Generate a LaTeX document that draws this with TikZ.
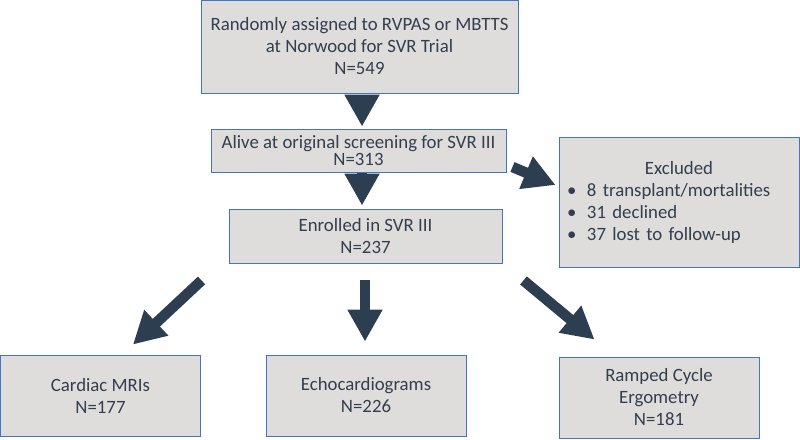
\documentclass[tikz,border=0pt]{standalone}
\usepackage{fontspec}
\setmainfont{Carlito}
\usepackage{tikz}
\usetikzlibrary{arrows.meta,positioning}
\definecolor{boxfill}{RGB}{222,221,220}
\definecolor{boxline}{RGB}{68,114,196}
\definecolor{navy}{RGB}{45,62,80}
\definecolor{ink}{RGB}{52,62,78}

\begin{document}
\begin{tikzpicture}[x=1pt,y=-1pt,
  box/.style={draw=boxline,fill=boxfill,line width=0.9pt,inner sep=0pt,align=center,text=ink,font=\fontsize{18.8}{22}\selectfont},
  fat/.style={draw=navy,line width=10.5pt,-{Triangle[length=32pt,width=33pt]}}]
  \useasboundingbox (0,0) rectangle (800,439);
  \node[box,minimum width=317,minimum height=93] (rand) at (359.5,46.5) {Randomly assigned to RVPAS or MBTTS\\at Norwood for SVR Trial\\N=549};
  \node[box,minimum width=295,minimum height=43,font=\fontsize{18.8}{17.5}\selectfont] (alive) at (358.5,150.5) {Alive at original screening for SVR III\\N=313};
  \node[box,minimum width=273,minimum height=54] (enrol) at (365.5,236) {Enrolled in SVR III\\N=237};
  \node[box,minimum width=240,minimum height=130,text width=224,align=left] (excl) at (679,202) {\makebox[224pt]{Excluded}\\
    \makebox[20pt][l]{\textbullet}8 transplant/mortalities\\
    \makebox[20pt][l]{\textbullet}31 declined\\
    \makebox[20pt][l]{\textbullet}37 lost to follow-up};
  \node[box,minimum width=200,minimum height=81] (mri) at (100.5,395.5) {Cardiac MRIs\\N=177};
  \node[box,minimum width=200,minimum height=81] (echo) at (366,395.5) {Echocardiograms\\N=226};
  \node[box,minimum width=200,minimum height=81] (ramp) at (659,397.5) {Ramped Cycle\\Ergometry\\N=181};

  \coordinate (e1) at ([shift={(6,16.5)}]alive.east);
  \coordinate (e2) at ([shift={(-3,-17)}]excl.west);
  \coordinate (m1) at ([shift={(-27,17)}]enrol.south west);
  \coordinate (m2) at ([shift={(-68,-10)}]mri.north east);
  \coordinate (r1) at ([shift={(21,17)}]enrol.south east);
  \coordinate (r2) at ([shift={(36,-17)}]ramp.north west);

  \draw[fat,shorten <=2pt,shorten >=2pt] ([xshift=2.5]rand.south) -- ([xshift=3.5]alive.north);
  \draw[fat,shorten <=1pt,shorten >=3pt] ([xshift=3.5]alive.south) -- ([xshift=-3.5]enrol.north);
  \draw[fat] (e1) -- (e2);
  \draw[fat] (m1) -- (m2);
  \draw[fat,shorten <=17pt,shorten >=13pt] ([xshift=-0.5]enrol.south) -- ([xshift=-1]echo.north);
  \draw[fat] (r1) -- (r2);
\end{tikzpicture}
\end{document}
